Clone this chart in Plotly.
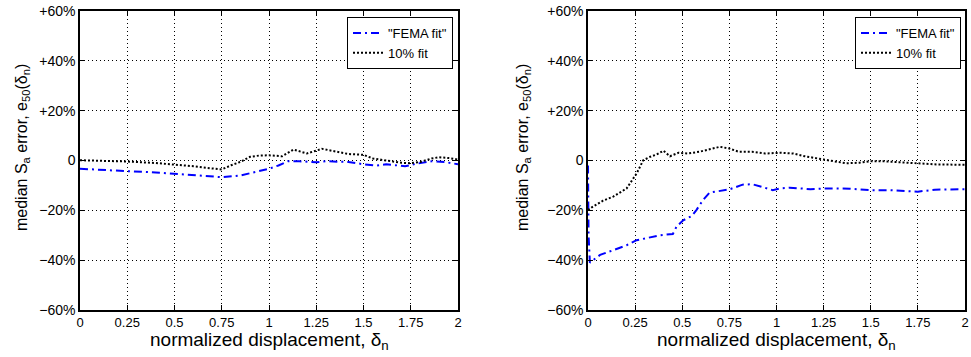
import plotly.graph_objects as go

# ---- data ----
left_fema_x = [0, 0.1, 0.25, 0.4, 0.5, 0.6, 0.75, 0.85, 0.92, 1.0, 1.05, 1.1, 1.16, 1.25, 1.3, 1.42, 1.5, 1.57, 1.62, 1.72, 1.78, 1.86, 1.93, 2.0]
left_fema_y = [-3.3, -3.8, -4.3, -4.8, -5.3, -5.9, -6.7, -6.0, -4.8, -3.3, -2.0, -0.3, -0.3, -0.7, -0.3, -0.6, -1.5, -2.0, -1.5, -2.3, -1.3, -0.3, -0.6, -1.5]

left_ten_x = [0, 0.1, 0.25, 0.4, 0.5, 0.6, 0.7, 0.75, 0.8, 0.85, 0.9, 0.95, 1.0, 1.07, 1.13, 1.2, 1.28, 1.35, 1.42, 1.5, 1.55, 1.62, 1.7, 1.75, 1.8, 1.86, 1.9, 1.95, 2.0]
left_ten_y = [0.1, 0.0, -0.4, -1.0, -1.6, -2.3, -3.2, -3.6, -1.9, -0.5, 1.5, 2.0, 2.1, 1.7, 4.4, 2.8, 4.7, 3.7, 2.6, 2.3, 0.8, 0.0, -0.9, -1.1, -0.6, 0.8, 1.3, 1.0, 0.4]

right_fema_x = [0, 0.003, 0.01, 0.064, 0.134, 0.205, 0.258, 0.311, 0.382, 0.45, 0.47, 0.505, 0.55, 0.575, 0.61, 0.645, 0.7, 0.75, 0.82, 0.87, 0.92, 0.98, 1.02, 1.07, 1.18, 1.28, 1.39, 1.5, 1.6, 1.7, 1.75, 1.84, 2.0]
right_fema_y = [-2, -30, -41, -37.9, -36, -34, -32, -31.2, -30, -29.5, -26.5, -24, -22.3, -19.9, -15.9, -12.9, -12.1, -11.6, -9.7, -9.5, -10.5, -11.9, -11.2, -10.9, -11.5, -11.2, -11.3, -11.9, -11.9, -12.4, -12.5, -11.7, -11.5]

right_ten_x = [0, 0.02, 0.08, 0.134, 0.205, 0.23, 0.258, 0.293, 0.33, 0.364, 0.4, 0.435, 0.48, 0.53, 0.59, 0.645, 0.7, 0.75, 0.8, 0.87, 0.94, 1.02, 1.09, 1.15, 1.2, 1.25, 1.32, 1.37, 1.44, 1.5, 1.57, 1.64, 1.71, 1.76, 1.85, 2.0]
right_ten_y = [-19.9, -18.8, -16.1, -14.5, -11.2, -8.5, -5.2, 0.1, 1.5, 2.4, 3.9, 1.7, 3.1, 2.8, 3.5, 4.5, 5.5, 4.8, 3.5, 3.5, 2.8, 3.1, 2.8, 1.7, 1.2, 0.4, -0.5, -1.1, -0.9, -0.3, -0.3, -0.7, -1.1, -1.2, -1.6, -1.7]

series_names = ['"FEMA fit"', '10% fit']
x_tickvals = [0, 0.25, 0.5, 0.75, 1, 1.25, 1.5, 1.75, 2]
x_ticktext = ["0", "0.25", "0.5", "0.75", "1", "1.25", "1.5", "1.75", "2"]
y_tickvals = [-60, -40, -20, 0, 20, 40, 60]
y_ticktext = ["\u221260%", "\u221240%", "\u221220%", "0", "+20%", "+40%", "+60%"]

x_title = "normalized displacement, \u03b4<sub>n</sub>"
y_title = "median S<sub>a</sub> error, e<sub>50</sub>(\u03b4<sub>n</sub>)"

FONT = "Liberation Sans, Arial, sans-serif"
blue_line = dict(color="#0000ff", width=2, dash="8px,4px,2px,4px")
black_line = dict(color="black", width=2, dash="2px,2px")

fig = go.Figure()
fig.add_trace(go.Scatter(x=left_fema_x, y=left_fema_y, mode="lines", line=blue_line,
                         name=series_names[0], xaxis="x", yaxis="y", legend="legend"))
fig.add_trace(go.Scatter(x=left_ten_x, y=left_ten_y, mode="lines", line=black_line,
                         name=series_names[1], xaxis="x", yaxis="y", legend="legend"))
fig.add_trace(go.Scatter(x=right_fema_x, y=right_fema_y, mode="lines", line=blue_line,
                         name=series_names[0], xaxis="x2", yaxis="y2", legend="legend2"))
fig.add_trace(go.Scatter(x=right_ten_x, y=right_ten_y, mode="lines", line=black_line,
                         name=series_names[1], xaxis="x2", yaxis="y2", legend="legend2"))

W, H = 971, 357
ydom = [1 - 310 / H, 1 - 11 / H]

def xax(dom, anchor):
    return dict(domain=dom, anchor=anchor, range=[0, 2], tickvals=x_tickvals, ticktext=x_ticktext,
                showline=True, linecolor="black", linewidth=1.5, mirror="allticks",
                ticks="inside", ticklen=5, tickcolor="black",
                showgrid=True, gridcolor="black", gridwidth=1, griddash="1px,3px",
                zeroline=False, tickfont=dict(family=FONT, size=13, color="black"),
                automargin=False)

def yax(anchor):
    return dict(domain=ydom, anchor=anchor, range=[-60, 60], tickvals=y_tickvals, ticktext=y_ticktext,
                showline=True, linecolor="black", linewidth=1.5, mirror="allticks",
                ticks="inside", ticklen=5, tickcolor="black",
                showgrid=True, gridcolor="black", gridwidth=1, griddash="1px,3px",
                zeroline=False, tickfont=dict(family=FONT, size=14, color="black"),
                automargin=False)

legend_common = dict(bgcolor="white", bordercolor="black", borderwidth=1,
                     font=dict(family=FONT, size=13, color="black"),
                     xanchor="right", yanchor="top", itemwidth=30, tracegroupgap=0)

x_title_font = dict(family=FONT, size=19, color="black")
y_title_font = dict(family=FONT, size=16, color="black")
annotations = []
for cx, ycx in [((80 + 458) / 2, 22), ((588 + 965) / 2, 523)]:
    annotations.append(dict(text=x_title, xref="paper", yref="paper", x=cx / W, y=1 - 341 / H,
                            xanchor="center", yanchor="middle", showarrow=False, font=x_title_font))
    annotations.append(dict(text=y_title, xref="paper", yref="paper", x=ycx / W, y=1 - 148 / H,
                            xanchor="center", yanchor="middle", showarrow=False, textangle=-90,
                            font=y_title_font))

fig.update_layout(
    width=W, height=H,
    margin=dict(l=0, r=0, t=0, b=0),
    paper_bgcolor="white", plot_bgcolor="white",
    showlegend=True,
    xaxis=xax([80 / W, 458 / W], "y"),
    yaxis=yax("x"),
    xaxis2=xax([588 / W, 965 / W], "y2"),
    yaxis2=yax("x2"),
    legend=dict(x=453 / W, y=1 - 17 / H, **legend_common),
    legend2=dict(x=961 / W, y=1 - 17 / H, **legend_common),
    annotations=annotations,
)

fig.write_html("out.html", config={"displayModeBar": False},
               post_script="document.body.style.margin='0';document.body.style.overflow='hidden';")
